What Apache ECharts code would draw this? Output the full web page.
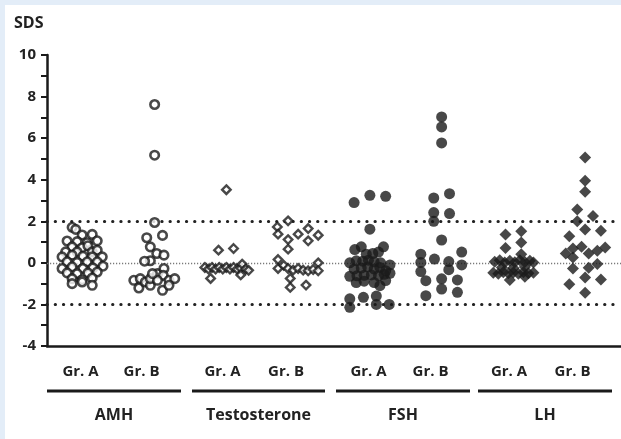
<!DOCTYPE html>
<html><head><meta charset="utf-8">
<script src="https://cdn.jsdelivr.net/npm/echarts@6/dist/echarts.min.js"></script>
<style>html,body{margin:0;padding:0;background:#fff;overflow:hidden}#c{width:621px;height:439px}</style>
</head><body><div id="c"></div><script>
// ---- data ----
const hormones = ['AMH', 'Testosterone', 'FSH', 'LH'];
const groupNames = ['Gr. A', 'Gr. B'];
const yTickValues = [-4, -2, 0, 2, 4, 6, 8, 10];
const refLines = [2, 0, -2];
const axisTitle = 'SDS';

// each point: [horizontal jitter within its column (column widths), SDS value]
const amhA = [[-0.15,1.71],[-0.10,1.61],[-0.01,1.34],[0.13,1.37],[-0.22,1.05],[-0.08,1.02],[0.06,0.97],[0.20,1.06],[-0.15,0.77],[-0.01,0.73],[0.07,0.82],[-0.24,0.53],[-0.08,0.53],[0.13,0.53],[0.20,0.61],[-0.29,0.29],[-0.15,0.37],[0.00,0.32],[0.13,0.29],[0.27,0.29],[-0.22,0.05],[-0.08,0.02],[0.06,0.05],[0.20,0.05],[-0.29,-0.27],[-0.15,-0.19],[0.00,-0.27],[0.14,-0.24],[0.28,-0.16],[-0.22,-0.48],[-0.08,-0.52],[0.07,-0.48],[0.20,-0.44],[-0.15,-0.76],[-0.01,-0.81],[0.13,-0.73],[-0.15,-1.00],[-0.01,-0.92],[0.13,-1.08]];
const amhB = [[0,7.62],[0,5.18],[0,1.94],[0.11,1.32],[-0.11,1.21],[-0.06,0.77],[0.03,0.45],[0.13,0.37],[-0.06,0.10],[-0.14,0.08],[-0.29,-0.84],[-0.20,-0.76],[-0.22,-1.21],[-0.13,-0.92],[-0.06,-1.08],[-0.06,-0.76],[0.04,-0.52],[0.13,-0.27],[0.12,-0.60],[0.20,-0.84],[0.28,-0.76],[0.04,-0.84],[0.11,-1.32],[0.20,-1.08],[-0.03,-0.52]];
const testA = [[0,3.52],[-0.11,0.61],[0.10,0.69],[-0.30,-0.22],[-0.25,-0.30],[-0.20,-0.22],[-0.15,-0.30],[-0.10,-0.22],[-0.05,-0.30],[0.00,-0.22],[0.05,-0.30],[0.10,-0.22],[0.15,-0.30],[0.20,-0.25],[0.22,-0.06],[0.27,-0.30],[0.31,-0.36],[-0.22,-0.75],[0.20,-0.58]];
const testB = [[-0.14,2.02],[-0.29,1.73],[-0.28,1.38],[0.14,1.65],[0,1.38],[0.28,1.33],[-0.14,1.12],[0.14,1.06],[-0.14,0.66],[-0.28,0.16],[-0.28,-0.27],[-0.20,-0.12],[-0.14,-0.27],[-0.07,-0.35],[0,-0.27],[0.07,-0.35],[0.14,-0.38],[0.21,-0.32],[0.28,0.0],[0.28,-0.38],[-0.11,-0.75],[-0.11,-1.18],[0.11,-1.07]];
const fshA = [[-0.22,2.90],[0,3.25],[0.22,3.20],[0,1.62],[-0.12,0.77],[0.19,0.77],[-0.21,0.64],[0.12,0.52],[-0.05,0.42],[0.04,0.45],[-0.28,0.00],[-0.19,0.10],[-0.10,0.08],[-0.02,0.13],[0.06,0.05],[0.15,0.00],[0.28,-0.10],[-0.22,-0.30],[-0.12,-0.25],[-0.03,-0.20],[0.06,-0.30],[0.14,-0.22],[0.22,-0.38],[-0.28,-0.65],[-0.18,-0.62],[-0.08,-0.60],[0.02,-0.58],[0.12,-0.62],[0.20,-0.55],[0.28,-0.50],[-0.19,-0.95],[-0.08,-0.88],[0.06,-0.95],[0.14,-1.10],[0.22,-0.85],[-0.28,-1.73],[-0.28,-2.14],[-0.09,-1.66],[0.09,-1.60],[0.09,-2.00],[0.27,-2.00]];
const fshB = [[0,7.02],[0,6.54],[0,5.77],[-0.11,3.12],[0.11,3.33],[-0.11,2.42],[0.11,2.37],[-0.11,2.00],[0,1.10],[-0.29,0.42],[-0.29,0.02],[-0.29,-0.42],[-0.10,0.18],[0.28,0.52],[0.28,-0.10],[0.10,0.06],[0.10,-0.33],[-0.22,-0.86],[0,-0.77],[0.22,-0.82],[0,-1.26],[0.22,-1.42],[-0.22,-1.58]];
const lhA = [[-0.11,1.36],[0.11,1.52],[0.11,0.98],[-0.11,0.72],[0.11,0.42],[-0.26,0.05],[-0.19,0.12],[-0.12,0.02],[-0.05,0.10],[0.02,0.03],[0.09,0.12],[0.16,0.04],[0.23,0.10],[0.28,0.02],[-0.16,-0.22],[0.0,-0.25],[0.16,-0.20],[-0.28,-0.48],[-0.21,-0.52],[-0.14,-0.45],[-0.07,-0.50],[0.0,-0.46],[0.07,-0.52],[0.14,-0.45],[0.21,-0.50],[0.28,-0.47],[-0.05,-0.83],[0.16,-0.67]];
const lhB = [[0,5.07],[0,3.95],[0,3.42],[-0.11,2.57],[0.11,2.25],[-0.11,2.0],[0,1.6],[0.22,1.54],[-0.22,1.28],[-0.17,0.69],[-0.05,0.77],[-0.27,0.45],[0.28,0.74],[0.05,0.45],[0.17,0.58],[-0.17,0.26],[0.17,-0.06],[0.05,-0.24],[-0.17,-0.27],[0.22,-0.80],[0,-0.70],[-0.22,-1.03],[0,-1.44]];

const columns = [amhA, amhB, testA, testB, fshA, fshB, lhA, lhB];

// ---- styles ----
const INK = '#1a1a1a';
const FONT = '"Open Sans", "DejaVu Sans", sans-serif';
const markerStyles = [
  {symbol:'circle', symbolSize:8.5, itemStyle:{color:'#fff', borderColor:INK, borderWidth:2.6}},
  {symbol:'diamond', symbolSize:8.5, itemStyle:{color:'#fff', borderColor:INK, borderWidth:2.4}},
  {symbol:'circle', symbolSize:11, itemStyle:{color:INK, borderWidth:0}},
  {symbol:'diamond', symbolSize:12, itemStyle:{color:INK, borderWidth:0}}
];

const series = columns.map((pts, i) => Object.assign({
  type:'scatter',
  silent:true,
  z:3,
  data: pts.map(p => [i + p[0], p[1]])
}, markerStyles[Math.floor(i/2)]));

series[0].markLine = {
  silent:true, symbol:'none', z:1, animation:false,
  label:{show:false},
  data: refLines.map(v => ({
    yAxis: v,
    lineStyle: v === 0
      ? {color:'#7a7a7a', width:1.3, type:[1.2, 1.8]}
      : {color:'#222', width:3, type:[0.3, 7.9], cap:'round'}
  }))
};

// ---- bottom group labels (layout in pixels) ----
const subLabelX = [80.5, 141.5, 222.5, 286, 368.5, 430.5, 509, 572.5];
const spans = [[47,181],[192,325],[336,470],[478,612]];
const graphic = [
  {type:'rect', shape:{x:0, y:0, width:621, height:5}, style:{fill:'#e3edf8'}, z:0},
  {type:'rect', shape:{x:0, y:0, width:5, height:439}, style:{fill:'#e3edf8'}, z:0},
  {type:'text', x:14, y:23, style:{text:axisTitle, font:'bold 16px ' + FONT, fill:'#222', textAlign:'left', verticalAlign:'middle', textVerticalAlign:'middle'}}
];
subLabelX.forEach((x, i) => graphic.push({type:'text', x:x, y:372,
  style:{text:groupNames[i % 2], font:'bold 15px ' + FONT, fill:'#222', textAlign:'center', verticalAlign:'middle', textVerticalAlign:'middle'}}));
spans.forEach((s, i) => {
  graphic.push({type:'line', shape:{x1:s[0], y1:391, x2:s[1], y2:391}, style:{stroke:'#1a1a1a', lineWidth:3}});
  graphic.push({type:'text', x:(s[0]+s[1])/2, y:415,
    style:{text:hormones[i], font:'bold 16px ' + FONT, fill:'#222', textAlign:'center', verticalAlign:'middle', textVerticalAlign:'middle'}});
});

const chart = echarts.init(document.getElementById('c'), null, {renderer:'canvas'});
chart.setOption({
  animation:false,
  backgroundColor:'#ffffff',
  grid:{left:47, right:0, top:55, bottom:93, containLabel:false},
  xAxis:{type:'value', min:-0.5, max:columns.length - 0.5,
    axisLine:{show:true, onZero:false, lineStyle:{color:INK, width:2.5}},
    axisTick:{show:false}, axisLabel:{show:false}, splitLine:{show:false}},
  yAxis:{type:'value', min:yTickValues[0], max:yTickValues[yTickValues.length-1], interval:1,
    axisLine:{show:true, onZero:false, lineStyle:{color:INK, width:2.5}},
    axisTick:{show:true, length:6, lineStyle:{color:INK, width:2}},
    axisLabel:{show:true, margin:11, color:'#222', fontSize:15, fontWeight:'bold', fontFamily:FONT,
      formatter: v => yTickValues.indexOf(v) >= 0 ? String(v) : ''},
    splitLine:{show:false}},
  series: series,
  graphic: graphic
});
</script></body></html>
